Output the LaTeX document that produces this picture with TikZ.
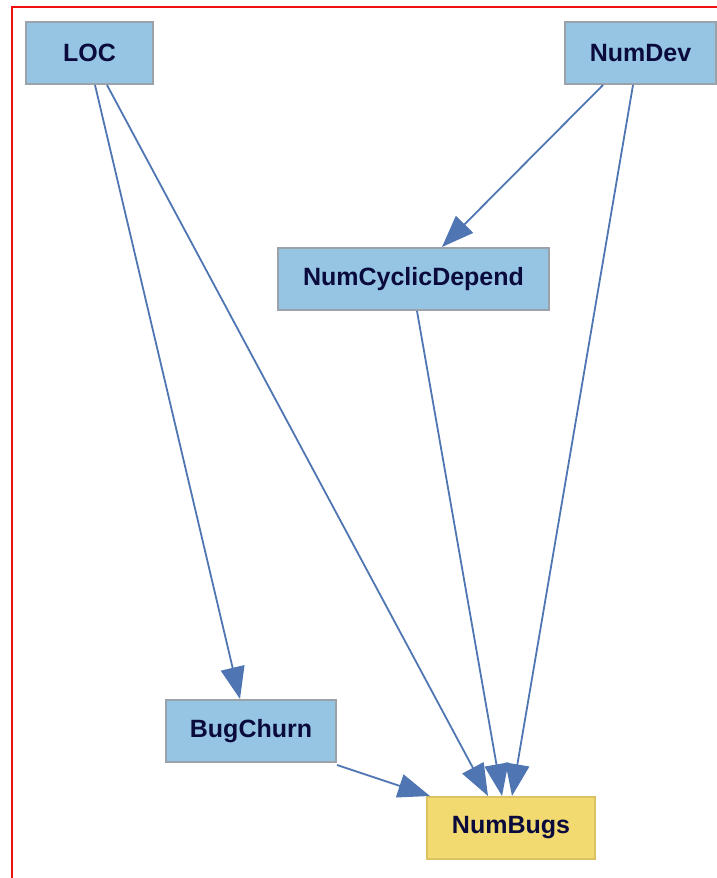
\documentclass[tikz,border=0pt]{standalone}
\usepackage{fontspec}
\setmainfont{Liberation Sans}
\usetikzlibrary{positioning, calc, arrows.meta}

\definecolor{varblue}{HTML}{95C5E2}
\definecolor{varedge}{HTML}{9CA2AA}
\definecolor{targetyellow}{HTML}{F3DA70}
\definecolor{targetedge}{HTML}{DCC262}
\definecolor{linkblue}{HTML}{4F76B3}
\definecolor{labelnavy}{HTML}{0A0A3C}
\definecolor{framered}{HTML}{F01010}

\begin{document}
\begin{tikzpicture}[
  x=1pt, y=-1pt, % pixel grid, origin top left
  every node/.style={
    font=\fontsize{25}{29}\selectfont\bfseries, text=labelnavy
  },
  var/.style={
    rectangle, draw=varedge, fill=varblue, line width=2pt,
    minimum height=62pt, inner sep=0pt
  },
  target/.style={var, draw=targetedge, fill=targetyellow},
  link/.style={
    draw=linkblue, line width=1.8pt,
    -{Triangle[length=32pt, width=24pt]}
  },
]
  \useasboundingbox (0,0) rectangle (717,878);
  % red frame, only top and left visible
  \draw[framered, line width=2pt] (12,878) -- (12,7) -- (717,7);

  % variables
  \node[var, minimum width=127pt] (loc) at (89.5,53) {LOC};
  \node[var, minimum width=151pt] (numdev) at (640.5,53) {NumDev};
  \node[var, minimum width=271pt] (cyclic) at (413.5,279) {NumCyclicDepend};
  \node[var, minimum width=170pt] (churn) at (251,731) {BugChurn};
  %% target
  \node[target, minimum width=168pt] (bugs) at (511,828) {NumBugs};

  % arrows from LOC
  \draw[link] ([xshift=5.5pt]loc.south) -- ([xshift=-11pt]churn.north);
  \draw[link] ([xshift=17.5pt]loc.south) -- ([xshift=-23pt]bugs.north);
  % arrows from NumDev
  \draw[link] ([xshift=-37.5pt]numdev.south) -- ([xshift=28.5pt]cyclic.north);
  \draw[link] ([xshift=-7.5pt]numdev.south) -- ([xshift=1pt]bugs.north);
  % arrow from NumCyclicDepend
  \draw[link] ([xshift=3.5pt]cyclic.south) -- ([xshift=-9pt]bugs.north);
  % arrow from BugChurn
  \draw[link] ([yshift=-2pt]churn.south east) -- ([xshift=4pt]bugs.north west);
\end{tikzpicture}
\end{document}
